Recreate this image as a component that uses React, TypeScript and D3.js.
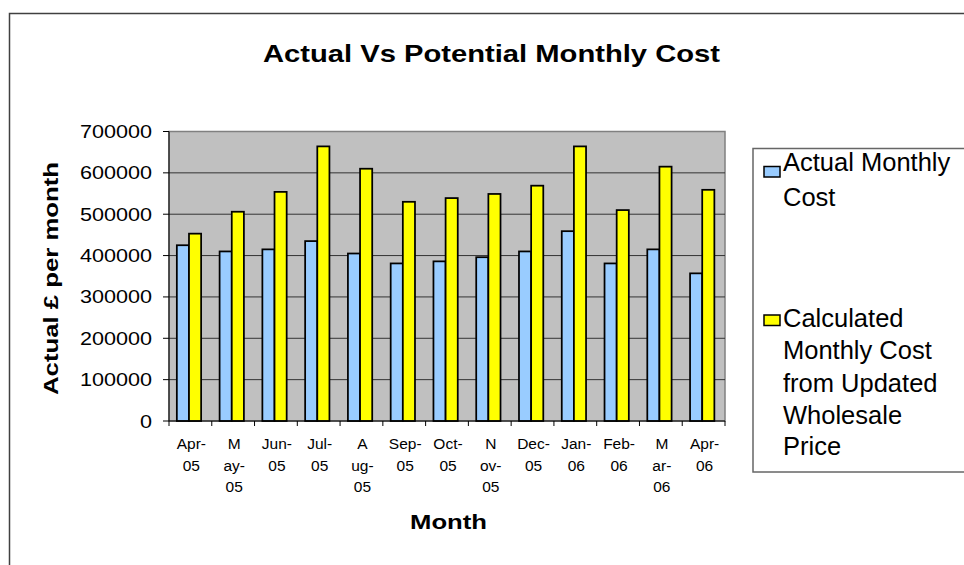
import React from "react";
import * as d3 from "d3";

const months = ["Apr-05","May-05","Jun-05","Jul-05","Aug-05","Sep-05","Oct-05","Nov-05","Dec-05","Jan-06","Feb-06","Mar-06","Apr-06"];
const monthLabelLines = [
  ["Apr-","05"],["M","ay-","05"],["Jun-","05"],["Jul-","05"],["A","ug-","05"],["Sep-","05"],
  ["Oct-","05"],["N","ov-","05"],["Dec-","05"],["Jan-","06"],["Feb-","06"],["M","ar-","06"],["Apr-","06"]
];
const actualCost = [425000,410000,415000,435000,405000,381000,386000,396000,410000,459000,381000,415000,357000];
const calculatedCost = [453000,506000,554000,664000,610000,530000,539000,549000,569000,664000,510000,615000,559000];
const yTicks = [0,100000,200000,300000,400000,500000,600000,700000];
const seriesColors = ["#99CCFF","#FFFF00"];
const legendLines = [["Actual Monthly","Cost"],["Calculated","Monthly Cost","from Updated","Wholesale","Price"]];
const titleText = "Actual Vs Potential Monthly Cost";
const yTitle = "Actual £ per month";
const xTitle = "Month";

const FONT = "'Liberation Sans', Arial, Helvetica, sans-serif";

export default function App() {
  const W = 964, H = 565;
  const plot = { left: 169, right: 725, top: 131.5, bottom: 421 };
  const x = d3.scaleBand<string>().domain(months).range([plot.left, plot.right]).paddingInner(0).paddingOuter(0);
  const y = d3.scaleLinear().domain([0, 700000]).range([plot.bottom, plot.top]);
  const bw = x.bandwidth();
  const barW = bw * 0.284;
  const groupOffset = (bw - 2 * barW) / 2 - 1.4;
  const series = [actualCost, calculatedCost];
  const boundaries = months.map((m) => x(m)!).concat([plot.right]);

  const legendBaselines = [[170.5, 205.5], [327, 359, 392, 424, 455]];
  const legendMarkerY = [166.5, 315];

  return (
    <svg width={W} height={H} style={{ position: "fixed", left: 0, top: 0, background: "#fff" }} fontFamily={FONT}>
      <rect x={0} y={0} width={W} height={H} fill="#fff" />
      {/* outer chart border */}
      <rect x={9.5} y={13.5} width={1100} height={700} fill="none" stroke="#404040" strokeWidth={1.5} />

      {/* title */}
      <text x={491.5} y={62} textAnchor="middle" fontSize={24.5} fontWeight="bold" textLength={457} lengthAdjust="spacingAndGlyphs">{titleText}</text>

      {/* plot area */}
      <rect x={plot.left} y={plot.top} width={plot.right - plot.left} height={plot.bottom - plot.top} fill="#C0C0C0" stroke="#808080" strokeWidth={1.5} />
      {yTicks.filter((t) => t > 0 && t < 700000).map((t) => (
        <line key={t} x1={plot.left} x2={plot.right} y1={y(t)} y2={y(t)} stroke="#333" strokeWidth={1} />
      ))}

      {/* bars */}
      {series.map((vals, si) =>
        months.map((m, i) => (
          <rect key={si + "-" + m}
            x={x(m)! + groupOffset + si * barW}
            y={y(vals[i])}
            width={barW}
            height={plot.bottom - y(vals[i])}
            fill={seriesColors[si]} stroke="#000" strokeWidth={1.75} />
        ))
      )}

      {/* axes */}
      <line x1={plot.left} x2={plot.left} y1={plot.top} y2={plot.bottom} stroke="#000" strokeWidth={1} />
      <line x1={plot.left} x2={plot.right} y1={plot.bottom} y2={plot.bottom} stroke="#000" strokeWidth={1} />
      {yTicks.map((t) => (
        <g key={"yt" + t}>
          <line x1={plot.left - 6} x2={plot.left} y1={y(t)} y2={y(t)} stroke="#000" strokeWidth={1} />
          <g transform={`translate(152,${y(t) + 6.5}) scale(1.167,1)`}>
            <text x={0} y={0} textAnchor="end" fontSize={18.5}>{String(t)}</text>
          </g>
        </g>
      ))}
      {boundaries.map((b, i) => (
        <line key={"xt" + i} x1={b} x2={b} y1={plot.bottom} y2={plot.bottom + 5} stroke="#000" strokeWidth={1} />
      ))}
      {months.map((m, i) => (
        <text key={"xl" + m} textAnchor="middle" fontSize={15.5}>
          {monthLabelLines[i].map((ln, j) => (
            <tspan key={j} x={x(m)! + bw / 2 + 1} y={449 + j * 21.5}>{ln}</tspan>
          ))}
        </text>
      ))}

      {/* axis titles */}
      <text transform="translate(57.5,278.5) rotate(-90)" textAnchor="middle" fontSize={20} fontWeight="bold" textLength={233} lengthAdjust="spacingAndGlyphs">{yTitle}</text>
      <text x={448.5} y={529} textAnchor="middle" fontSize={20.5} fontWeight="bold" textLength={77} lengthAdjust="spacingAndGlyphs">{xTitle}</text>

      {/* legend */}
      <rect x={753} y={148.5} width={400} height={323.5} fill="#fff" stroke="#666" strokeWidth={1.5} />
      {legendLines.map((lines, si) => (
        <g key={"lg" + si}>
          <rect x={764} y={legendMarkerY[si]} width={16} height={10.5} fill={seriesColors[si]} stroke="#000" strokeWidth={1.5} />
          {lines.map((ln, j) => (
            <text key={j} x={783} y={legendBaselines[si][j]} fontSize={25.5}>{ln}</text>
          ))}
        </g>
      ))}
    </svg>
  );
}
